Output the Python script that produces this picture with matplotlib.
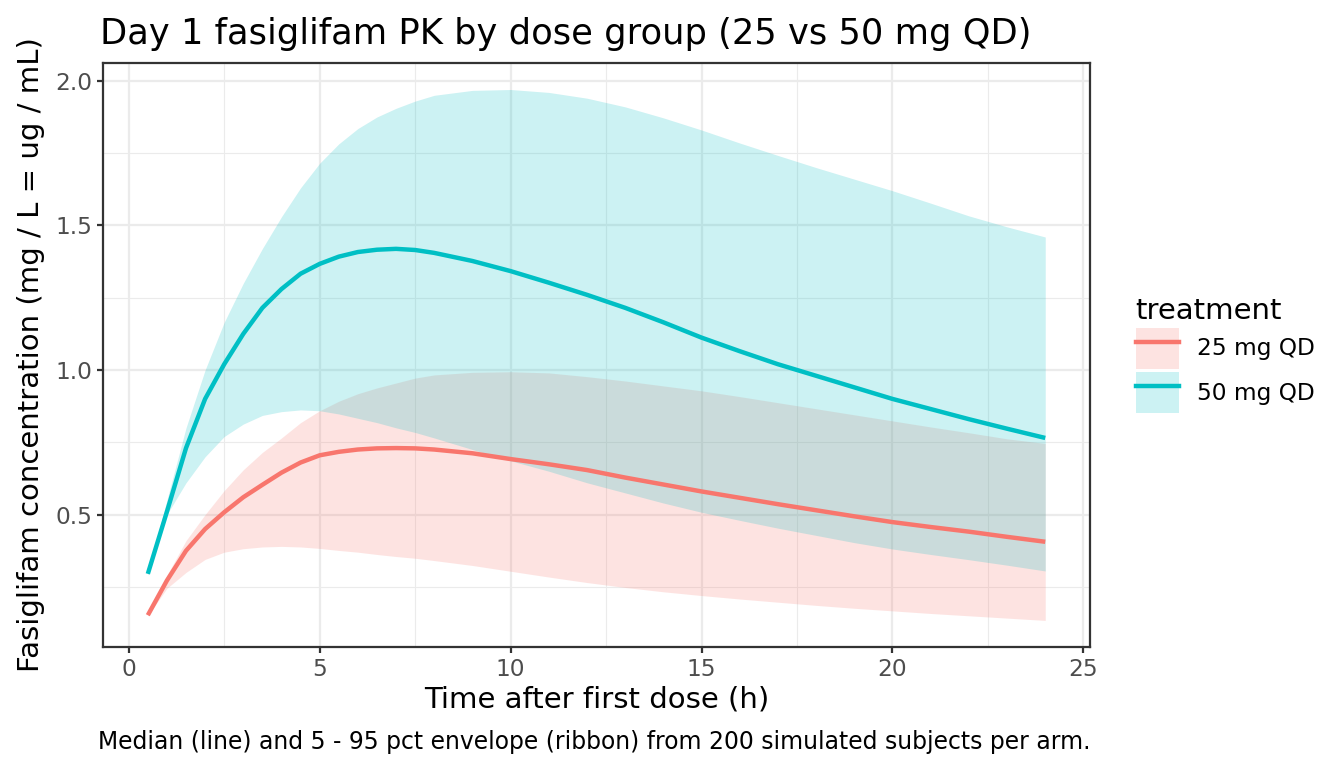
import matplotlib
matplotlib.use("Agg")
import matplotlib.pyplot as plt
from matplotlib.lines import Line2D
from matplotlib.patches import Patch
from matplotlib.ticker import MultipleLocator
import numpy as np

# hours after first dose
time_h = [0.5, 1, 1.5, 2, 2.5, 3, 3.5, 4, 4.5, 5, 5.5, 6, 6.5, 7, 7.5, 8,
          9, 10, 11, 12, 13, 14, 15, 16, 17, 18, 19, 20, 21, 22, 23, 24]

# 25 mg QD: median and 5-95 pct envelope
med_25 = [0.152, 0.272, 0.375, 0.450, 0.508, 0.560, 0.603, 0.645, 0.680, 0.705,
          0.717, 0.725, 0.729, 0.730, 0.729, 0.725, 0.712, 0.692, 0.674, 0.654,
          0.628, 0.604, 0.580, 0.558, 0.536, 0.515, 0.494, 0.474, 0.457, 0.441,
          0.423, 0.406]
lo_25 = [0.150, 0.245, 0.300, 0.345, 0.370, 0.382, 0.388, 0.390, 0.388, 0.383,
         0.376, 0.370, 0.362, 0.355, 0.349, 0.341, 0.324, 0.304, 0.284, 0.265,
         0.248, 0.233, 0.220, 0.208, 0.197, 0.186, 0.176, 0.167, 0.158, 0.150,
         0.142, 0.134]
hi_25 = [0.155, 0.290, 0.410, 0.500, 0.583, 0.655, 0.715, 0.765, 0.818, 0.859,
         0.892, 0.918, 0.938, 0.955, 0.972, 0.983, 0.992, 0.994, 0.990, 0.977,
         0.962, 0.945, 0.928, 0.908, 0.887, 0.866, 0.845, 0.824, 0.803, 0.783,
         0.762, 0.746]

# 50 mg QD
med_50 = [0.295, 0.510, 0.730, 0.900, 1.020, 1.125, 1.215, 1.280, 1.333, 1.367,
          1.392, 1.408, 1.416, 1.419, 1.415, 1.405, 1.377, 1.342, 1.302, 1.260,
          1.215, 1.165, 1.112, 1.065, 1.020, 0.980, 0.940, 0.900, 0.865, 0.830,
          0.797, 0.765]
lo_50 = [0.290, 0.500, 0.610, 0.700, 0.770, 0.813, 0.843, 0.856, 0.862, 0.859,
         0.848, 0.833, 0.818, 0.800, 0.784, 0.765, 0.725, 0.686, 0.650, 0.610,
         0.575, 0.540, 0.508, 0.480, 0.453, 0.428, 0.403, 0.381, 0.362, 0.344,
         0.325, 0.305]
hi_50 = [0.300, 0.550, 0.800, 1.000, 1.165, 1.300, 1.420, 1.530, 1.630, 1.715,
         1.782, 1.835, 1.875, 1.905, 1.930, 1.950, 1.967, 1.970, 1.960, 1.940,
         1.910, 1.872, 1.830, 1.785, 1.742, 1.700, 1.660, 1.620, 1.577, 1.533,
         1.495, 1.460]

groups = ["25 mg QD", "50 mg QD"]
colors = ["#F8766D", "#00BFC4"]

plt.rcParams['font.family'] = ['DejaVu Sans']

fig = plt.figure(figsize=(8.96, 5.12), dpi=150)
ax = fig.add_axes([0.0766, 0.1576, 0.7345, 0.7604])

series = [(med_25, lo_25, hi_25), (med_50, lo_50, hi_50)]
lw = 2.13
for (med, lo, hi), col in zip(series, colors):
    ax.fill_between(time_h, lo, hi, color=col, alpha=0.2, linewidth=0)
for (med, lo, hi), col in zip(series, colors):
    ax.plot(time_h, med, color=col, linewidth=lw, solid_capstyle='butt')

# ggplot-like expansion (5%)
xmin, xmax = min(time_h), max(time_h)
ymin = min(min(lo_25), min(lo_50))
ymax = max(max(hi_25), max(hi_50))
dx = (xmax - xmin) * 0.05
dy = (ymax - ymin) * 0.05
ax.set_xlim(xmin - dx, xmax + dx)
ax.set_ylim(ymin - dy, ymax + dy)

ax.xaxis.set_major_locator(MultipleLocator(5))
ax.xaxis.set_minor_locator(MultipleLocator(2.5))
ax.yaxis.set_major_locator(MultipleLocator(0.5))
ax.yaxis.set_minor_locator(MultipleLocator(0.25))
ax.set_yticks([0.5, 1.0, 1.5, 2.0])
ax.set_yticklabels(["0.5", "1.0", "1.5", "2.0"])

ax.grid(which='major', color='#EBEBEB', linewidth=1.07)
ax.grid(which='minor', color='#EBEBEB', linewidth=0.53)
ax.set_axisbelow(True)
for sp in ax.spines.values():
    sp.set_color('#333333')
    sp.set_linewidth(1.07)
ax.tick_params(which='major', length=2.75, width=1.07, color='#333333',
               labelcolor='#4D4D4D', labelsize=11.2, pad=2.5)
ax.tick_params(which='minor', length=0)

ax.set_xlabel("Time after first dose (h)", fontsize=14, labelpad=2)
ax.set_ylabel("Fasiglifam concentration (mg / L = ug / mL)", fontsize=14, labelpad=5)
ax.set_title("Day 1 fasiglifam PK by dose group (25 vs 50 mg QD)", fontsize=16.9,
             loc='left', pad=9, x=-0.003)

handles = [(Patch(facecolor=c, alpha=0.2, linewidth=0),
            Line2D([], [], color=c, linewidth=lw)) for c in colors]
leg = ax.legend(handles, groups, title="treatment", loc='center left',
                bbox_to_anchor=(1.046, 0.5), frameon=False, fontsize=11.2,
                title_fontsize=14, handlelength=1.85, handleheight=2.35,
                handletextpad=0.8, labelspacing=0.12, borderaxespad=0,
                borderpad=0)
leg._legend_box.align = "left"

# caption is right-aligned to the panel edge, like ggplot
fig.text(0.0766 + 0.7345, 0.034,
         "Median (line) and 5 - 95 pct envelope (ribbon) from 200 simulated subjects per arm.",
         fontsize=11.3, ha='right', va='center')

fig.savefig("out.png", dpi=150)
